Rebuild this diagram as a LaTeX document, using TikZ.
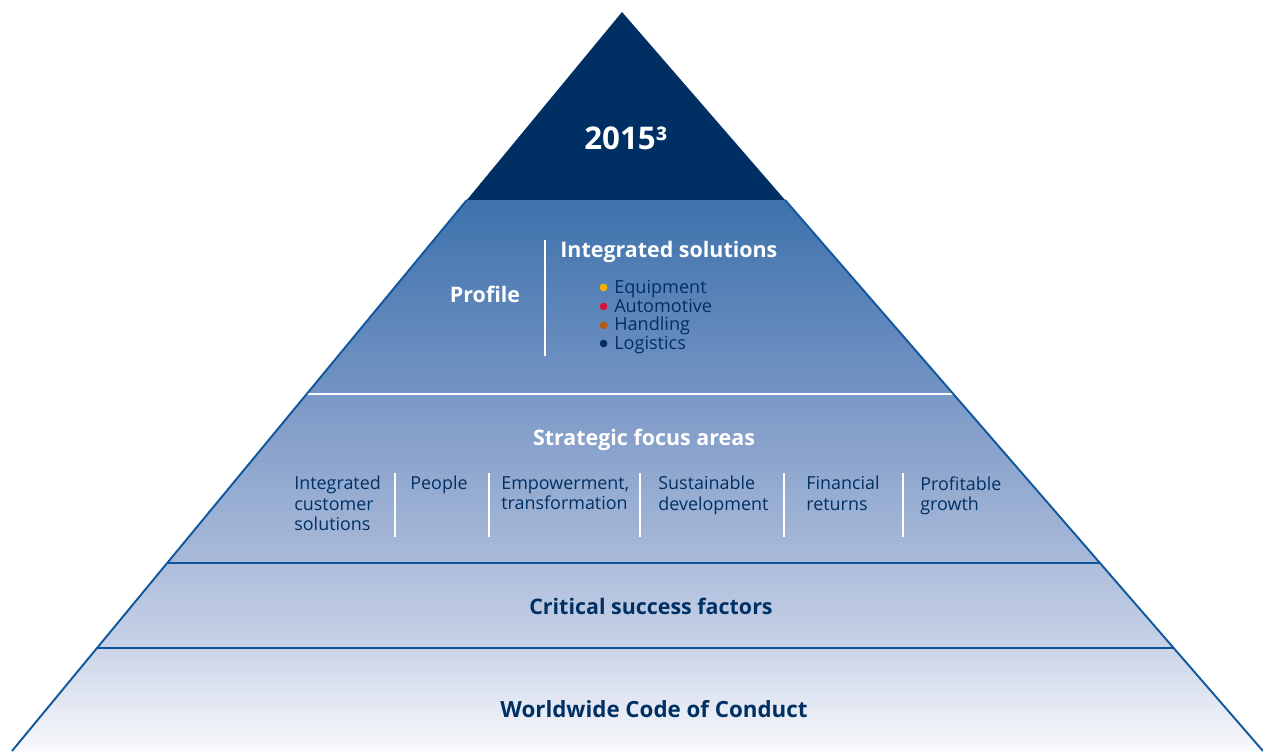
\documentclass[tikz,border=0pt]{standalone}
\usepackage{fontspec}
\setmainfont{Open Sans}
\newfontfamily\symfont{DejaVu Sans}
\usepackage{xcolor}
\usepackage{tikz}
\usetikzlibrary{calc,positioning}

\definecolor{navy}{RGB}{0,48,99}
\definecolor{edgeblue}{RGB}{16,88,158}
\definecolor{lineblue}{RGB}{11,84,152}
\definecolor{byellow}{RGB}{240,180,0}
\definecolor{bred}{RGB}{215,20,60}
\definecolor{bbrown}{RGB}{180,90,20}

\newcommand{\divdot}[1]{{\symfont\fontsize{5.6}{6}\selectfont\color{#1}\raisebox{1.6pt}{●}}\hspace{3.6pt}}

\begin{document}
\begin{tikzpicture}[x=0.02cm,y=-0.02cm,
  head/.style={inner sep=0pt, font=\bfseries\fontsize{12.2}{14}\selectfont},
  item/.style={inner sep=0pt, anchor=north west, align=left, text=navy,
    font=\fontsize{10.2}{11.6}\selectfont},
  sep/.style={white, line width=1pt},
  band/.style={line width=1.6pt, lineblue}]
\useasboundingbox (0,0) rectangle (1263,751);

\coordinate (apex) at (622,12);
\coordinate (bl) at (12,751);
\coordinate (br) at (1263,751);
\coordinate (l1) at ($(apex)!0.2544!(bl)$);
\coordinate (r1) at ($(apex)!0.2544!(br)$);
\coordinate (l2) at ($(apex)!0.5169!(bl)$);
\coordinate (r2) at ($(apex)!0.5169!(br)$);
\coordinate (l3) at ($(apex)!0.7456!(bl)$);
\coordinate (r3) at ($(apex)!0.7456!(br)$);
\coordinate (l4) at ($(apex)!0.8606!(bl)$);
\coordinate (r4) at ($(apex)!0.8606!(br)$);

\begin{scope}
\clip (apex) -- (bl) -- (br) -- cycle;
\fill [navy] (0,0) rectangle (1263,200);
\shade [top color={rgb,255:red,62;green,114;blue,172}, bottom color={rgb,255:red,116;green,148;blue,196}] (0,200) rectangle (1263,394);
\shade [top color={rgb,255:red,122;green,152;blue,198}, bottom color={rgb,255:red,170;green,186;blue,217}] (0,394) rectangle (1263,563);
\shade [top color={rgb,255:red,174;green,189;blue,219}, bottom color={rgb,255:red,200;green,210;blue,231}] (0,563) rectangle (1263,648);
\shade [top color={rgb,255:red,203;green,212;blue,232}, bottom color={rgb,255:red,248;green,249;blue,252}] (0,648) rectangle (1263,751);
\end{scope}

\draw [white, line width=1.6pt] (l2) -- (r2);
\draw [band] (l3) -- (r3);
\draw [band] (l4) -- (r4);
\draw [edgeblue, line width=1.1pt] (l1) -- (bl);
\draw [edgeblue, line width=1.1pt] (r1) -- (br);

\node [head, text=white, font=\bfseries\fontsize{17.8}{20}\selectfont] (year) at (626,138) {2015³};

\node [head, text=white] (profile) at (485,294) {Profile};
\draw [sep] (545,240) -- (545,356);
\node [head, text=white, anchor=west] (solutions) at (560,252) {Integrated solutions};
\node [item, font=\fontsize{10.3}{10.6}\selectfont] (divisions) at (599,280)
  {\divdot{byellow}Equipment\\
   \divdot{bred}Automotive\\
   \divdot{bbrown}Handling\\
   \divdot{navy}Logistics};

\node [head, text=white] (focus) at (644,440) {Strategic focus areas};
\node [item] (customer) at (294,476) {Integrated\\customer\\solutions};
\node [item] (people) at (410,476) {People};
\node [item] (empower) at (501,476) {Empowerment,\\transformation};
\node [item] (sustain) at (658,476) {Sustainable\\development};
\node [item] (returns) at (806,476) {Financial\\returns};
\node [item] (growth) at (920,476) {Profitable\\growth};
\draw [sep] (395,473) -- (395,537);
\draw [sep] (489,473) -- (489,537);
\draw [sep] (640,473) -- (640,537);
\draw [sep] (784,473) -- (784,537);
\draw [sep] (903,473) -- (903,537);

\node [head, text=navy] (success) at (651,606) {Critical success factors};
\node [head, text=navy, font=\bfseries\fontsize{12.7}{14}\selectfont] (conduct) at (654,709) {Worldwide Code of Conduct};
\end{tikzpicture}
\end{document}
